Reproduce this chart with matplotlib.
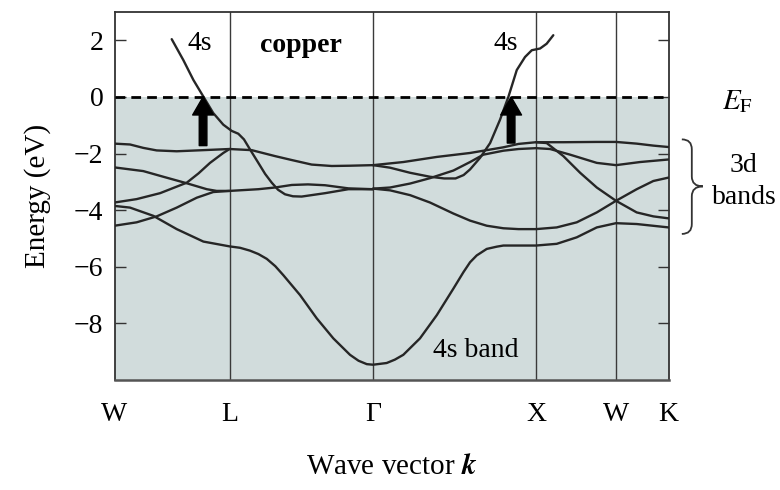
import matplotlib
matplotlib.use('Agg')
import matplotlib.pyplot as plt
from matplotlib.path import Path
from matplotlib.patches import PathPatch
import matplotlib.transforms as mtransforms

plt.rcParams['font.family'] = ['Liberation Serif', 'DejaVu Serif']
plt.rcParams['mathtext.fontset'] = 'stix'

# ---------------- data ----------------
sym_labels = ['W', 'L', 'Γ', 'X', 'W', 'K']
sym_k = [0.0, 0.712, 1.600, 2.608, 3.103, 3.428]
y_ticks = [2, 0, -2, -4, -6, -8]
fermi_level = 0.0

d1_k = [0.0, 0.096, 0.178, 0.261, 0.385, 0.550, 0.712, 0.849, 0.993, 1.097, 1.220, 1.344, 1.457, 1.600]
d1_E = [-1.65, -1.68, -1.80, -1.89, -1.92, -1.88, -1.84, -1.88, -2.09, -2.23, -2.39, -2.44, -2.43, -2.41]

d2_k = [0.0, 0.178, 0.302, 0.447, 0.571, 0.632, 0.712, 0.890, 0.993, 1.097, 1.197, 1.303, 1.447, 1.600]
d2_E = [-2.49, -2.62, -2.82, -3.05, -3.26, -3.32, -3.32, -3.26, -3.20, -3.11, -3.09, -3.12, -3.23, -3.26]

d3_k = [0.0, 0.137, 0.282, 0.447, 0.520, 0.591, 0.673, 0.712]
d3_E = [-3.73, -3.61, -3.40, -3.03, -2.70, -2.33, -1.98, -1.84]

d5_k = [0.0, 0.137, 0.261, 0.385, 0.509, 0.611, 0.712]
d5_E = [-4.55, -4.43, -4.22, -3.91, -3.56, -3.36, -3.32]

s_low_k = [0.0, 0.096, 0.240, 0.385, 0.550, 0.712, 0.777, 0.838, 0.890, 0.942, 0.995, 1.045,
           1.148, 1.251, 1.354, 1.457, 1.510, 1.561, 1.600, 1.684, 1.735, 1.787, 1.890, 1.994,
           2.097, 2.159, 2.200, 2.241, 2.303, 2.365, 2.406, 2.608, 2.736, 2.860, 2.984, 3.103,
           3.231, 3.428]
s_low_E = [-3.85, -3.91, -4.20, -4.67, -5.11, -5.28, -5.33, -5.43, -5.55, -5.72, -5.98, -6.30,
           -7.00, -7.82, -8.53, -9.11, -9.32, -9.44, -9.46, -9.40, -9.28, -9.11, -8.53, -7.71,
           -6.77, -6.19, -5.84, -5.60, -5.37, -5.29, -5.25, -5.25, -5.19, -4.96, -4.61, -4.46,
           -4.49, -4.61]

s_left_k = [0.354, 0.426, 0.488, 0.550, 0.611, 0.673, 0.725, 0.766, 0.801, 0.838, 0.890, 0.932,
            0.973, 1.012, 1.055, 1.104, 1.158, 1.303, 1.447, 1.600]
s_left_E = [2.04, 1.30, 0.60, 0.01, -0.57, -0.98, -1.20, -1.30, -1.50, -1.85, -2.33, -2.72,
            -3.03, -3.28, -3.44, -3.51, -3.52, -3.40, -3.26, -3.26]

s_right_k = [1.600, 1.705, 1.829, 1.952, 2.040, 2.110, 2.160, 2.200, 2.262, 2.324, 2.385, 2.437,
             2.489, 2.540, 2.582, 2.633, 2.674, 2.715]
s_right_E = [-2.41, -2.50, -2.68, -2.82, -2.88, -2.88, -2.76, -2.56, -2.15, -1.63, -0.81, 0.00,
             0.95, 1.41, 1.65, 1.71, 1.88, 2.18]

gx_a_k = [1.600, 1.787, 1.994, 2.200, 2.406, 2.500, 2.608, 2.777, 2.984, 3.103, 3.231, 3.334, 3.428]
gx_a_E = [-2.41, -2.30, -2.12, -1.98, -1.78, -1.66, -1.60, -1.60, -1.59, -1.59, -1.65, -1.72, -1.77]

gx_b_k = [1.600, 1.705, 1.829, 1.952, 2.097, 2.200, 2.282, 2.406, 2.500, 2.608, 2.695, 2.819,
          2.984, 3.103, 3.252, 3.428]
gx_b_E = [-3.24, -3.20, -3.06, -2.87, -2.60, -2.30, -2.04, -1.90, -1.84, -1.81, -1.84, -2.04,
          -2.33, -2.41, -2.30, -2.21]

gx_c_k = [1.600, 1.705, 1.829, 1.952, 2.097, 2.200, 2.303, 2.406, 2.500, 2.608, 2.736, 2.860,
          2.984, 3.103, 3.231, 3.334, 3.428]
gx_c_E = [-3.24, -3.30, -3.47, -3.73, -4.12, -4.37, -4.55, -4.64, -4.67, -4.67, -4.61, -4.43,
          -4.08, -3.67, -3.26, -2.97, -2.85]

xk_d_k = [2.608, 2.674, 2.777, 2.881, 2.984, 3.103, 3.231, 3.334, 3.428]
xk_d_E = [-1.60, -1.63, -2.09, -2.68, -3.20, -3.67, -4.08, -4.22, -4.29]

bands = [(d1_k, d1_E), (d2_k, d2_E), (d3_k, d3_E), (d5_k, d5_E), (s_low_k, s_low_E),
         (s_left_k, s_left_E), (s_right_k, s_right_E), (gx_a_k, gx_a_E), (gx_b_k, gx_b_E),
         (gx_c_k, gx_c_E), (xk_d_k, xk_d_E)]

arrow_k = [0.548, 2.454]
arrow_E_start = [-1.72, -1.63]

# ---------------- figure ----------------
fig = plt.figure(figsize=(7.8, 4.9), dpi=100)
ax = fig.add_axes([0.1468, 0.2245, 0.7103, 0.751])

ax.set_xlim(sym_k[0], sym_k[-1])
ax.set_ylim(-10, 3)

ax.axhspan(-10, fermi_level, color='#d1dcdc', zorder=0, lw=0)
for k in sym_k[1:-1]:
    ax.axvline(k, color='#3a3a3a', lw=1.0, zorder=1)

for kk, ee in bands:
    ax.plot(kk, ee, color='#262626', lw=1.7, zorder=3,
            solid_capstyle='round', solid_joinstyle='round')

ax.axhline(fermi_level, color='black', lw=2.0, ls=(0, (3.5, 2.2)), zorder=4)

for k, e0 in zip(arrow_k, arrow_E_start):
    ax.annotate('', xy=(k, fermi_level), xytext=(k, e0),
                arrowprops=dict(width=5.5, headwidth=15, headlength=13, color='black', shrink=0),
                zorder=5)

ax.set_xticks(sym_k)
ax.set_xticklabels(sym_labels, fontsize=20)
ax.set_yticks(y_ticks)
ax.set_yticklabels([('−' + str(-t)) if t < 0 else str(t) for t in y_ticks], fontsize=20)
ax.tick_params(axis='x', length=0, pad=16)
ax.tick_params(axis='y', direction='in', length=8, width=1.0, right=True, pad=8, color='#333333')

for s in ax.spines.values():
    s.set_color('#333333')
    s.set_linewidth(1.3)
ax.spines['bottom'].set_color('#555555')
ax.spines['bottom'].set_linewidth(1.8)

ax.set_ylabel('Energy (eV)', fontsize=21)
ax.yaxis.set_label_coords(-0.115, 0.5)
ax.set_xlabel(r'Wave vector $\mathbfit{k}$', fontsize=21)
ax.xaxis.set_label_coords(0.5, -0.2)

# annotations
ax.text(0.529, 1.89, '4s', fontsize=20, ha='center', va='center', zorder=6)
ax.text(1.155, 1.80, 'copper', fontsize=20, fontweight='bold', ha='center', va='center', zorder=6)
ax.text(2.423, 1.89, '4s', fontsize=20, ha='center', va='center', zorder=6)
ax.text(2.237, -8.95, '4s band', fontsize=20, ha='center', va='center', zorder=6)

trans = mtransforms.blended_transform_factory(ax.transAxes, ax.transData)
ax.text(1.124, -0.15, r'$E_{\mathrm{F}}$', fontsize=21, ha='center', va='center',
        transform=trans, clip_on=False)
ax.text(1.136, -2.42, '3d', fontsize=20, ha='center', va='center', transform=trans, clip_on=False)
ax.text(1.136, -3.55, 'bands', fontsize=20, ha='center', va='center', transform=trans, clip_on=False)

# brace
x0, xm, x1 = 1.024, 1.042, 1.062
yt, ymid, yb = -1.5, -3.16, -4.84
r = 0.35
verts = [(x0, yt), (xm, yt), (xm, yt - r),
         (xm, ymid + r), (xm, ymid), (x1, ymid),
         (xm, ymid), (xm, ymid - r),
         (xm, yb + r), (xm, yb), (x0, yb)]
codes = [Path.MOVETO, Path.CURVE3, Path.CURVE3,
         Path.LINETO, Path.CURVE3, Path.CURVE3,
         Path.CURVE3, Path.CURVE3,
         Path.LINETO, Path.CURVE3, Path.CURVE3]
brace = PathPatch(Path(verts, codes), transform=trans, fill=False, lw=1.3,
                  edgecolor='#333333', clip_on=False)
ax.add_patch(brace)

fig.savefig('out.png', dpi=100)
